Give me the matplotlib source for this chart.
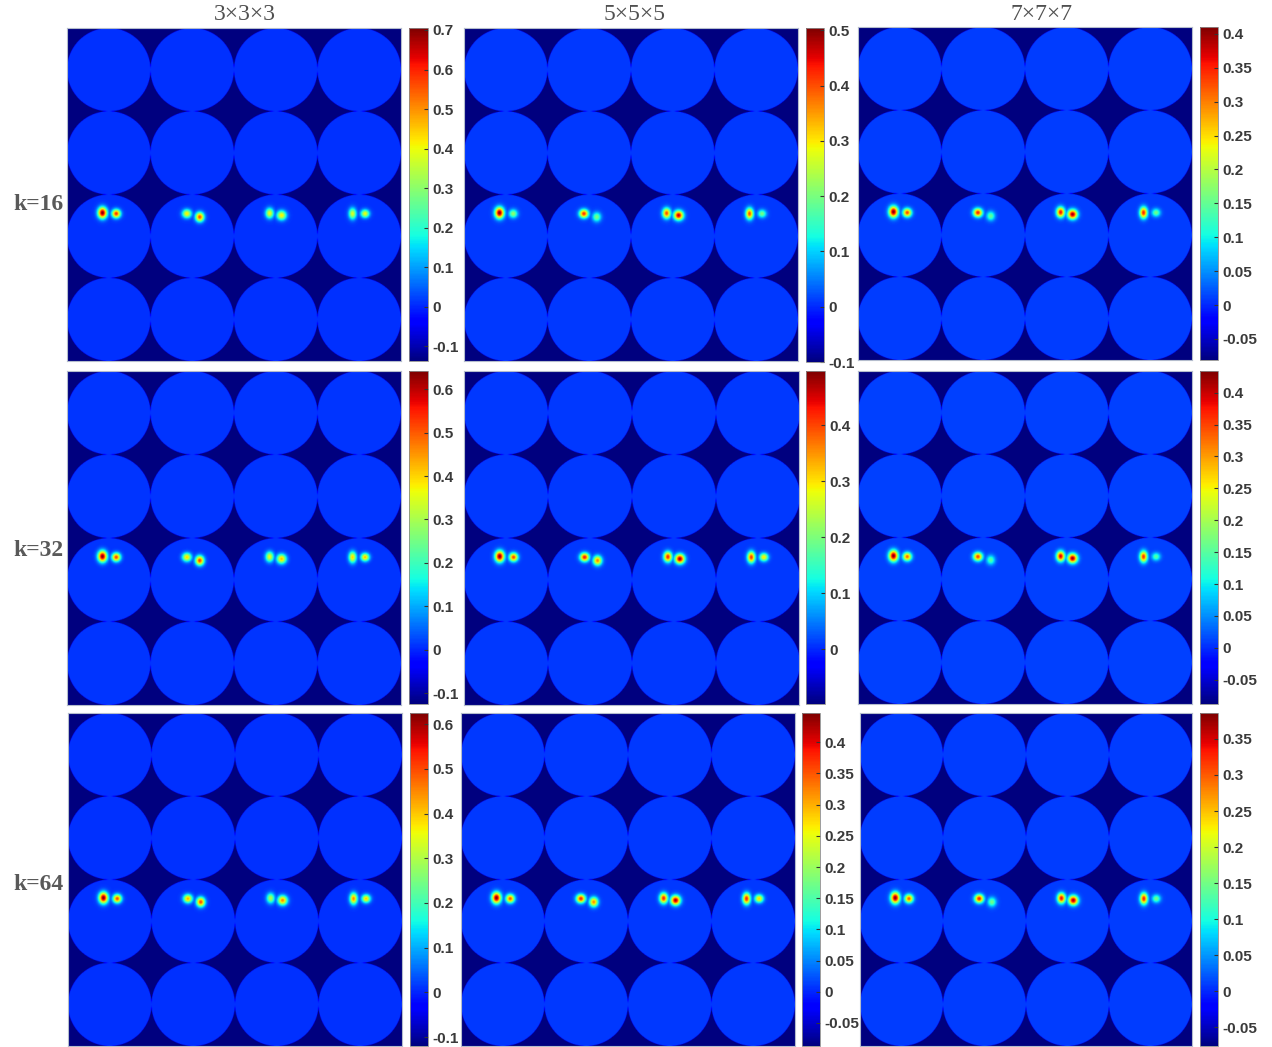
import matplotlib as mpl

mpl.use("Agg")
import matplotlib.pyplot as plt
import numpy as np

# column / row headers
KERNELS = ["3×3×3", "5×5×5", "7×7×7"]
K_LABELS = ["k=16", "k=32", "k=64"]

# colour limits of each panel (rows: k, cols: kernel size)
CLIM_LO = [
    [-0.137, -0.100, -0.081],
    [-0.125, -0.098, -0.088],
    [-0.120, -0.087, -0.076],
]
CLIM_HI = [
    [0.705, 0.504, 0.410],
    [0.642, 0.497, 0.434],
    [0.625, 0.447, 0.386],
]
TICKS = [
    [
        [-0.1, 0, 0.1, 0.2, 0.3, 0.4, 0.5, 0.6, 0.7],
        [-0.1, 0, 0.1, 0.2, 0.3, 0.4, 0.5],
        [-0.05, 0, 0.05, 0.1, 0.15, 0.2, 0.25, 0.3, 0.35, 0.4],
    ],
    [
        [-0.1, 0, 0.1, 0.2, 0.3, 0.4, 0.5, 0.6],
        [0, 0.1, 0.2, 0.3, 0.4],
        [-0.05, 0, 0.05, 0.1, 0.15, 0.2, 0.25, 0.3, 0.35, 0.4],
    ],
    [
        [-0.1, 0, 0.1, 0.2, 0.3, 0.4, 0.5, 0.6],
        [-0.05, 0, 0.05, 0.1, 0.15, 0.2, 0.25, 0.3, 0.35, 0.4],
        [-0.05, 0, 0.05, 0.1, 0.15, 0.2, 0.25, 0.3, 0.35],
    ],
]

# reconstruction value inside each disk
DISK_LEVEL = 0.01

# inclusions: two per disk in the third row of disks (left, right)
BLOB_DX = [-0.075, 0.090, -0.064, 0.090, -0.073, 0.070, -0.080, 0.070]
BLOB_DY = [-0.280, -0.270, -0.270, -0.230, -0.275, -0.250, -0.270, -0.270]
BLOB_SX = [0.037, 0.035, 0.037, 0.035, 0.033, 0.039, 0.031, 0.035]
BLOB_SY = [0.046, 0.035, 0.035, 0.039, 0.042, 0.039, 0.046, 0.033]
PEAKS = [
    [
        [0.705, 0.590, 0.420, 0.560, 0.400, 0.420, 0.380, 0.400],
        [0.504, 0.220, 0.420, 0.200, 0.400, 0.470, 0.400, 0.200],
        [0.410, 0.330, 0.350, 0.150, 0.360, 0.400, 0.350, 0.160],
    ],
    [
        [0.642, 0.520, 0.400, 0.520, 0.360, 0.420, 0.400, 0.420],
        [0.497, 0.400, 0.430, 0.360, 0.420, 0.480, 0.410, 0.300],
        [0.434, 0.330, 0.350, 0.150, 0.400, 0.420, 0.360, 0.150],
    ],
    [
        [0.625, 0.500, 0.420, 0.500, 0.300, 0.450, 0.450, 0.400],
        [0.447, 0.350, 0.380, 0.320, 0.380, 0.430, 0.380, 0.280],
        [0.386, 0.300, 0.330, 0.150, 0.340, 0.370, 0.330, 0.150],
    ],
]

W, H = 1272, 1047
IMG_BOX = [
    [(67, 28, 401, 361), (464, 28, 798, 361), (858, 27, 1192, 360)],
    [(67, 371, 401, 705), (464, 371, 799, 705), (858, 371, 1192, 704)],
    [(68, 713, 402, 1046), (461, 713, 795, 1046), (860, 713, 1192, 1046)],
]
CBAR_BOX = [
    [(409, 28, 428, 361), (806, 28, 824, 362), (1200, 27, 1218, 360)],
    [(409, 371, 428, 704), (806, 371, 825, 704), (1200, 371, 1218, 704)],
    [(410, 713, 428, 1046), (802, 713, 820, 1046), (1200, 713, 1218, 1046)],
]
TITLE_X = [245, 635, 1042]
KLABEL_Y = [204, 551, 884]


def box(x0, y0, x1, y1):
    return [x0 / W, 1 - y1 / H, (x1 - x0) / W, (y1 - y0) / H]


def make_field(lo, peaks, n=480):
    u = (np.arange(n) + 0.5) / n * 4
    X, Y = np.meshgrid(u, u)
    # 4x4 tangent disks, anti-aliased edge
    d = np.hypot(X % 1 - 0.5, Y % 1 - 0.5)
    inside = np.clip((0.5 - d) * n / 4 + 0.5, 0, 1)
    bump = np.zeros_like(X)
    for i, p in enumerate(peaks):
        bx = i // 2 + 0.5 + BLOB_DX[i]
        by = 2.5 + BLOB_DY[i]
        g = np.exp(-((X - bx) ** 2 / (2 * BLOB_SX[i] ** 2)
                     + (Y - by) ** 2 / (2 * BLOB_SY[i] ** 2)))
        bump = np.maximum(bump, (p - DISK_LEVEL) * g)
    return lo + (DISK_LEVEL - lo + bump) * inside


fig = plt.figure(figsize=(W / 100, H / 100), dpi=100)

for r in range(3):
    for c in range(3):
        ax = fig.add_axes(box(*IMG_BOX[r][c]))
        field = make_field(CLIM_LO[r][c], PEAKS[r][c])
        im = ax.imshow(field, cmap="jet", vmin=CLIM_LO[r][c], vmax=CLIM_HI[r][c],
                       extent=[0, 4, 4, 0], aspect="auto", interpolation="antialiased")
        ax.set_xticks([])
        ax.set_yticks([])
        for sp in ax.spines.values():
            sp.set_color("#b4bccc")
            sp.set_linewidth(0.8)

        cax = fig.add_axes(box(*CBAR_BOX[r][c]))
        cb = fig.colorbar(im, cax=cax, ticks=TICKS[r][c])
        cb.ax.set_yticklabels([f"{t:g}" for t in TICKS[r][c]])
        cb.outline.set_edgecolor("#8c8c8c")
        cb.outline.set_linewidth(0.6)
        cax.tick_params(direction="in", length=3, width=0.8, color="#333333",
                        pad=3, labelsize=11, labelcolor="#3a3a3a")
        for lab in cax.get_yticklabels():
            lab.set_fontfamily("Liberation Sans")
            lab.set_fontweight("bold")

for c, name in enumerate(KERNELS):
    fig.text(TITLE_X[c] / W, 1 - 15 / H, name, ha="center", va="center",
             fontsize=17, family="Liberation Serif", color="#505050")

for r, name in enumerate(K_LABELS):
    fig.text(38 / W, 1 - KLABEL_Y[r] / H, name, ha="center", va="center",
             fontsize=17, family="Liberation Serif", fontweight="bold", color="#595959")

fig.savefig("out.png", dpi=100)
